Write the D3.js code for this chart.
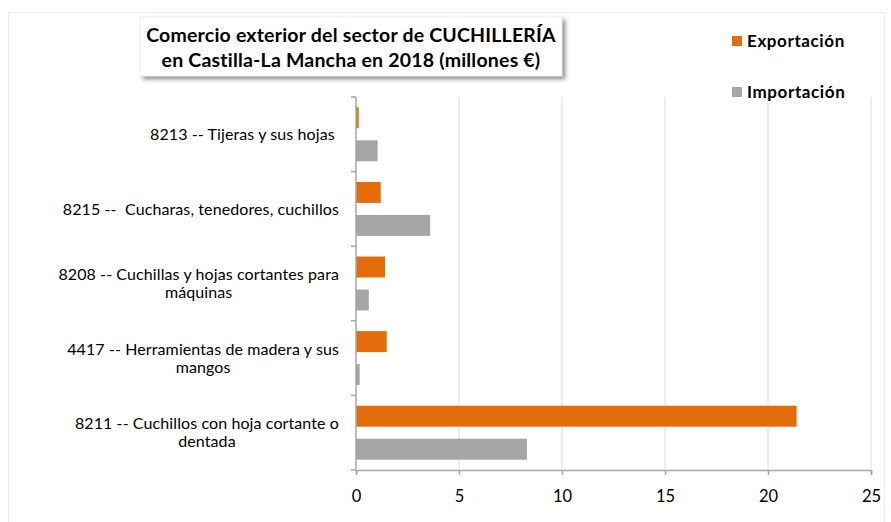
<!DOCTYPE html>
<html><head><meta charset="utf-8">
<script src="https://cdn.jsdelivr.net/npm/d3@7"></script>
<style>
html,body{margin:0;padding:0;background:#fff;}
svg{display:block;font-family:Lato,"Open Sans",sans-serif;}
.cat{white-space:pre;}
</style></head>
<body>
<svg id="chart" width="891" height="522"></svg>
<script>
const categories = ["8213", "8215", "8208", "4417", "8211"];
const categoryLines = [
  ["8213 -- Tijeras y sus hojas "],
  ["8215 --  Cucharas, tenedores, cuchillos"],
  ["8208 -- Cuchillas y hojas cortantes para", "máquinas"],
  ["4417 -- Herramientas de madera y sus", "mangos"],
  ["8211 -- Cuchillos con hoja cortante o", "dentada"]
];
const seriesNames = ["Exportación", "Importación"];
const exportacion = [0.13, 1.2, 1.41, 1.49, 21.39];
const importacion = [1.05, 3.6, 0.62, 0.18, 8.3];
const xTicks = [0, 5, 10, 15, 20, 25];
const titleLines = ["Comercio exterior del sector de CUCHILLERÍA", "en Castilla-La Mancha en 2018 (millones €)"];
const colors = {"Exportación": "#E46C0A", "Importación": "#A6A6A6"};

const svg = d3.select("#chart");

// outer faint frame
svg.append("rect").attr("x", 8.5).attr("y", 12.5).attr("width", 876).attr("height", 520)
  .attr("fill", "#fff").attr("stroke", "#ececec").attr("stroke-width", 1);

const x = d3.scaleLinear().domain([0, 25]).range([356, 871]);
const y = d3.scaleBand().domain(categories).range([97, 470]).padding(0);
const ySub = d3.scaleBand().domain(seriesNames).range([0, y.bandwidth()])
  .paddingInner(0.364).paddingOuter(0.312);

// gridlines
svg.append("g").selectAll("line").data(xTicks.filter(d => d > 0)).join("line")
  .attr("x1", d => x(d)).attr("x2", d => x(d))
  .attr("y1", 97).attr("y2", 470)
  .attr("stroke", "#d9d9d9").attr("stroke-width", 1);

// bars
const rows = categories.map((c, i) => ({c, vals: [
  {s: "Exportación", v: exportacion[i]},
  {s: "Importación", v: importacion[i]}
]}));
const g = svg.append("g");
rows.forEach(r => {
  g.selectAll(null).data(r.vals).join("rect")
    .attr("x", x(0))
    .attr("y", d => y(r.c) + ySub(d.s))
    .attr("width", d => x(d.v) - x(0))
    .attr("height", ySub.bandwidth())
    .attr("fill", d => colors[d.s]);
});

// x axis
const xAxis = svg.append("g").attr("transform", "translate(0,470)")
  .call(d3.axisBottom(x).tickValues(xTicks).tickSize(5).tickPadding(15));
xAxis.select(".domain").attr("stroke", "#a6a6a6").attr("stroke-width", 1.5);
xAxis.selectAll(".tick line").attr("stroke", "#a6a6a6").attr("stroke-width", 1.5);
xAxis.selectAll(".tick text").attr("font-family", "Lato, sans-serif").attr("font-size", 16.5).attr("fill", "#000");

// y axis
const yAxis = svg.append("g").attr("transform", "translate(356,0)");
yAxis.append("line").attr("x1", 0).attr("x2", 0).attr("y1", 97).attr("y2", 470)
  .attr("stroke", "#a6a6a6").attr("stroke-width", 1.5);
const edges = categories.map(c => y(c)).concat([y(categories[categories.length - 1]) + y.bandwidth()]);
yAxis.selectAll("line.tk").data(edges).join("line").attr("class", "tk")
  .attr("x1", -5).attr("x2", 0).attr("y1", d => d).attr("y2", d => d)
  .attr("stroke", "#a6a6a6").attr("stroke-width", 1.5);

// category labels (centered multi-line block, right edge near axis)
categories.forEach((c, i) => {
  const lines = categoryLines[i];
  const cy = y(c) + y.bandwidth() / 2;
  const lh = 18;
  const t = svg.append("text").attr("class", "cat").attr("font-size", 16).attr("fill", "#000")
    .attr("text-anchor", "middle").attr("letter-spacing", 0.1);
  lines.forEach((ln, j) => {
    t.append("tspan").attr("x", 0).attr("y", cy + (j - (lines.length - 1) / 2) * lh).attr("dy", "0.35em").text(ln);
  });
  const w = t.node().getBBox().width;
  t.selectAll("tspan").attr("x", 339 - w / 2);
});

// title box with shadow
const defs = svg.append("defs");
const f = defs.append("filter").attr("id", "sh").attr("x", "-10%").attr("y", "-20%").attr("width", "130%").attr("height", "160%");
f.append("feDropShadow").attr("dx", 3).attr("dy", 3).attr("stdDeviation", 2).attr("flood-color", "#000").attr("flood-opacity", 0.45);
svg.append("rect").attr("x", 140).attr("y", 17).attr("width", 422).attr("height", 59)
  .attr("fill", "#fff").attr("stroke", "#d9d9d9").attr("stroke-width", 0.5).attr("filter", "url(#sh)");
const tt = svg.append("text").attr("text-anchor", "middle").attr("font-weight", "bold")
  .attr("font-size", 19.5).attr("letter-spacing", 0.2).attr("fill", "#000");
titleLines.forEach((ln, j) => {
  tt.append("tspan").attr("x", 351).attr("y", 42 + j * 25).text(ln);
});

// legend
const leg = svg.append("g");
seriesNames.forEach((s, i) => {
  const ly = 41 + i * 51;
  leg.append("rect").attr("x", 732).attr("y", ly - 5).attr("width", 10).attr("height", 10).attr("fill", colors[s]);
  leg.append("text").attr("x", 747).attr("y", ly).attr("dy", "0.35em")
    .attr("font-size", 17).attr("font-weight", "bold").attr("letter-spacing", 0.6).attr("fill", "#000").text(s);
});
</script>
</body></html>
